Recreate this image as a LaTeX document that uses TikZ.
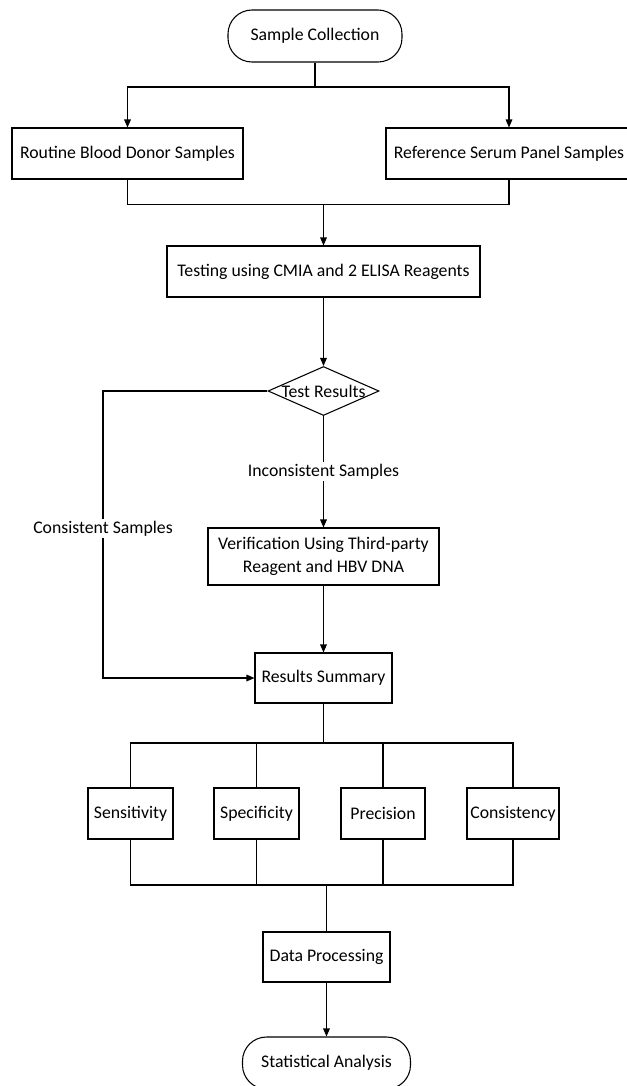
\documentclass[tikz,border=0pt]{standalone}
\usepackage{fontspec}
\setmainfont{Carlito}
\usetikzlibrary{arrows.meta,shapes.geometric}

\begin{document}
\begin{tikzpicture}[x=0.75pt,y=-0.75pt,line width=0.8pt,font=\fontsize{13.3}{17.5}\selectfont,
  box/.style={draw,minimum height=51*0.75pt,inner sep=2pt},
  term/.style={draw,rounded corners=18pt,minimum height=52*0.75pt},
  arr/.style={-{Triangle[length=6pt,width=5pt]}},
  lbl/.style={fill=white,inner sep=1.5pt}]
\useasboundingbox (0,0) rectangle (627,1086);
% nodes, at pixel positions
\node[term,minimum width=174*0.75pt] (coll) at (315,36) {Sample Collection};
\node[box,minimum width=231*0.75pt] (routine) at (127.5,153.5) {Routine Blood Donor Samples};
\node[box,minimum width=246*0.75pt] (refer) at (509,153.5) {Reference Serum Panel Samples};
\node[box,minimum width=313*0.75pt] (test) at (323.5,271.5) {Testing using CMIA and 2 ELISA Reagents};
\node[draw,diamond,inner sep=0pt,minimum width=111*0.75pt,minimum height=49*0.75pt] (dia) at (323.5,391) {\makebox[0pt]{Test Results}};
\node[box,align=center,minimum width=231*0.75pt,minimum height=57*0.75pt] (verif) at (323.5,556.5) {Verification Using Third-party\\Reagent and HBV DNA};
\node[box,minimum width=137*0.75pt,minimum height=50*0.75pt] (summ) at (323.5,678) {Results Summary};
\node[box,minimum width=85*0.75pt] (sens) at (130.5,813.5) {Sensitivity};
\node[box,minimum width=85*0.75pt] (spec) at (256.5,813.5) {Specificity};
\node[box,minimum width=84*0.75pt] (prec) at (383,813.5) {Precision};
\node[box,minimum width=92*0.75pt] (cons) at (513,813.5) {Consistency};
\node[box,minimum width=127*0.75pt,minimum height=50*0.75pt] (proc) at (326.5,957) {Data Processing};
\node[term,minimum width=168*0.75pt] (stat) at (326.5,1063) {Statistical Analysis};
% connectors
\coordinate (split) at (315,87); \coordinate (merge) at (323.5,204.5);
\coordinate (cleft) at (103,391);
\coordinate (fan) at (323.5,743); \coordinate (join) at (326.5,885);
\draw (coll) -- (split); \draw[arr] (split) -| (routine); \draw[arr] (split) -| (refer);
\draw (routine) |- (merge) -| (refer); \draw[arr] (merge) -- (test);
\draw[arr] (test) -- (dia);
\draw[arr] (dia) -- node[lbl]{Inconsistent Samples} (verif);
\draw[arr] (dia.west) -- (cleft) |- node[lbl,pos=0.24]{Consistent Samples} (summ);
\draw[arr] (verif) -- (summ);
\draw (summ) -- (fan);
\foreach \n in {sens,spec,prec,cons} \draw (fan) -| (\n);
\foreach \n in {sens,spec,prec,cons} \draw (\n) |- (join);
\draw (join) -- (proc); \draw[arr] (proc) -- (stat);
\end{tikzpicture}
\end{document}
